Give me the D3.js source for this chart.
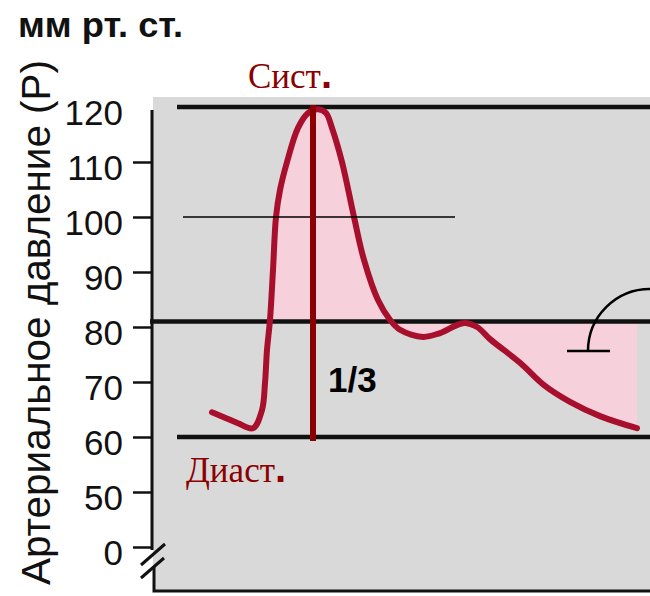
<!DOCTYPE html>
<html><head><meta charset="utf-8">
<script src="https://cdn.jsdelivr.net/npm/d3@7"></script>
<style>body{margin:0;background:#fff}svg{display:block}</style>
</head><body>
<svg id="c" width="650" height="596"></svg>
<script>
// ---- data ----
const time =     [12.4, 15,   17.6, 20.6, 22.4, 23,   23.4, 24,   24.6, 25.2, 26,    27.4, 29.6,  31.6,  33.6,  35.2,  36.4,  38.4, 40.8, 42.8, 45.6, 48,   50,   54.6, 58,   62.6, 65.4, 68,   74,   79,   84,   90,   97.4];
const pressure = [64.5, 63.5, 62.5, 61.6, 64.9, 69.8, 75.8, 81.3, 90.4, 100,  104.9, 110,  116.2, 118.9, 119.6, 118.9, 116.2, 110,  100,  92.2, 84.9, 81.3, 79.5, 78.2, 78.9, 80.7, 80,   77.8, 73.5, 69.3, 66.4, 63.8, 61.6];
const tickValues = [40, 50, 60, 70, 80, 90, 100, 110, 120];
const tickLabels = ["0", "50", "60", "70", "80", "90", "100", "110", "120"];
const systolic = 120, diastolic = 60, meanP = 81, refLine = 100;
const systTime = 32.6;
const yTitle = "Артериальное давление (Р)";
const unitLabel = "мм рт. ст.";
const systLabel = "Сист", diastLabel = "Диаст", fracLabel = "1/3";

// ---- scales ----
const svg = d3.select("#c");
const x = d3.scaleLinear().domain([0, 100]).range([150, 650]);
const y = d3.scaleLinear().domain([40, 120]).range([547, 107]);
const pts = time.map((t, i) => ({t, v: pressure[i]}));

// background
svg.append("rect").attr("x", 153).attr("y", 97).attr("width", 497).attr("height", 493).attr("fill", "#d9d9d9");

// pink area between curve and mean line
const fillPts = pts.filter(d => d.t >= 24);
svg.append("path").datum(fillPts)
  .attr("d", d3.area().x(d => x(d.t)).y0(y(meanP)).y1(d => y(d.v)).curve(d3.curveCatmullRom))
  .attr("fill", "#f6d0da");

// reference horizontal lines
const hl = [{v: systolic, x0: 177}, {v: meanP, x0: 150}, {v: diastolic, x0: 177}];
svg.selectAll("line.h").data(hl).join("line").attr("class", "h")
  .attr("x1", d => d.x0).attr("x2", 650).attr("y1", d => y(d.v)).attr("y2", d => y(d.v))
  .attr("stroke", "#111").attr("stroke-width", 4.5);

// pressure curve
svg.append("path").datum(pts)
  .attr("d", d3.line().x(d => x(d.t)).y(d => y(d.v)).curve(d3.curveCatmullRom))
  .attr("fill", "none").attr("stroke", "#a80f2c").attr("stroke-width", 6).attr("stroke-linecap", "round");

// thin line at 100
svg.append("line").attr("x1", 183).attr("x2", 455).attr("y1", y(refLine)).attr("y2", y(refLine))
  .attr("stroke", "#000").attr("stroke-width", 1.6);

// vertical systolic bar
svg.append("line").attr("x1", x(systTime)).attr("x2", x(systTime)).attr("y1", y(systolic) - 2).attr("y2", y(diastolic) + 4)
  .attr("stroke", "#8b0000").attr("stroke-width", 6);

// y axis
const axis = d3.axisLeft(y).tickValues(tickValues).tickFormat((d, i) => tickLabels[i]).tickSize(19).tickPadding(10);
const ag = svg.append("g").attr("transform", "translate(152,0)").call(axis);
ag.select(".domain").remove();
ag.selectAll(".tick line").attr("stroke", "#111").attr("stroke-width", 2.5)
  .attr("opacity", d => d === 120 ? 0 : 1);
ag.selectAll(".tick text").attr("font-family", "Liberation Sans, Arial, sans-serif").attr("font-size", 35)
  .attr("fill", "#111").attr("dy", "0.5em");

// axis line with break
svg.append("path").attr("d", `M152,${y(120)+3} L152,550`).attr("stroke", "#111").attr("stroke-width", 3).attr("fill", "none");
svg.append("path").attr("d", `M154,566 L154,591 L650,591`).attr("stroke", "#111").attr("stroke-width", 3).attr("fill", "none");
svg.append("path").attr("d", "M141,565 L165,544 M141,578 L164,558").attr("stroke", "#111").attr("stroke-width", 3);

// titles
svg.append("text").attr("x", 18).attr("y", 37).attr("font-family", "Liberation Sans, Arial, sans-serif")
  .attr("font-size", 35).attr("font-weight", "bold").attr("fill", "#111")
  .attr("textLength", 165).attr("lengthAdjust", "spacingAndGlyphs").text(unitLabel);
svg.append("text").attr("transform", "translate(50,585) rotate(-90)")
  .attr("font-family", "Liberation Sans, Arial, sans-serif").attr("font-size", 40).attr("fill", "#111")
  .attr("textLength", 525).attr("lengthAdjust", "spacingAndGlyphs").text(yTitle);

// labels
function redLabel(txt, lx, ly) {
  const t = svg.append("text").attr("x", lx).attr("y", ly).attr("fill", "#8b0000");
  t.append("tspan").attr("font-family", "Liberation Serif, Times New Roman, serif").attr("font-size", 35).text(txt);
  t.append("tspan").attr("font-family", "Liberation Sans, Arial, sans-serif").attr("font-size", 40).attr("font-weight", "bold").text(".");
}
redLabel(systLabel, 248, 88);
redLabel(diastLabel, 186, 482);
svg.append("text").attr("x", 328).attr("y", 392).attr("font-family", "Liberation Sans, Arial, sans-serif")
  .attr("font-size", 35).attr("font-weight", "bold").attr("fill", "#000").text(fracLabel);

// arc symbol
svg.append("path").attr("d", "M588,351 A62,62 0 0 1 650,289").attr("fill", "none").attr("stroke", "#000").attr("stroke-width", 2.5);
svg.append("line").attr("x1", 567).attr("x2", 610).attr("y1", 351).attr("y2", 351).attr("stroke", "#000").attr("stroke-width", 2.5);
</script>
</body></html>
